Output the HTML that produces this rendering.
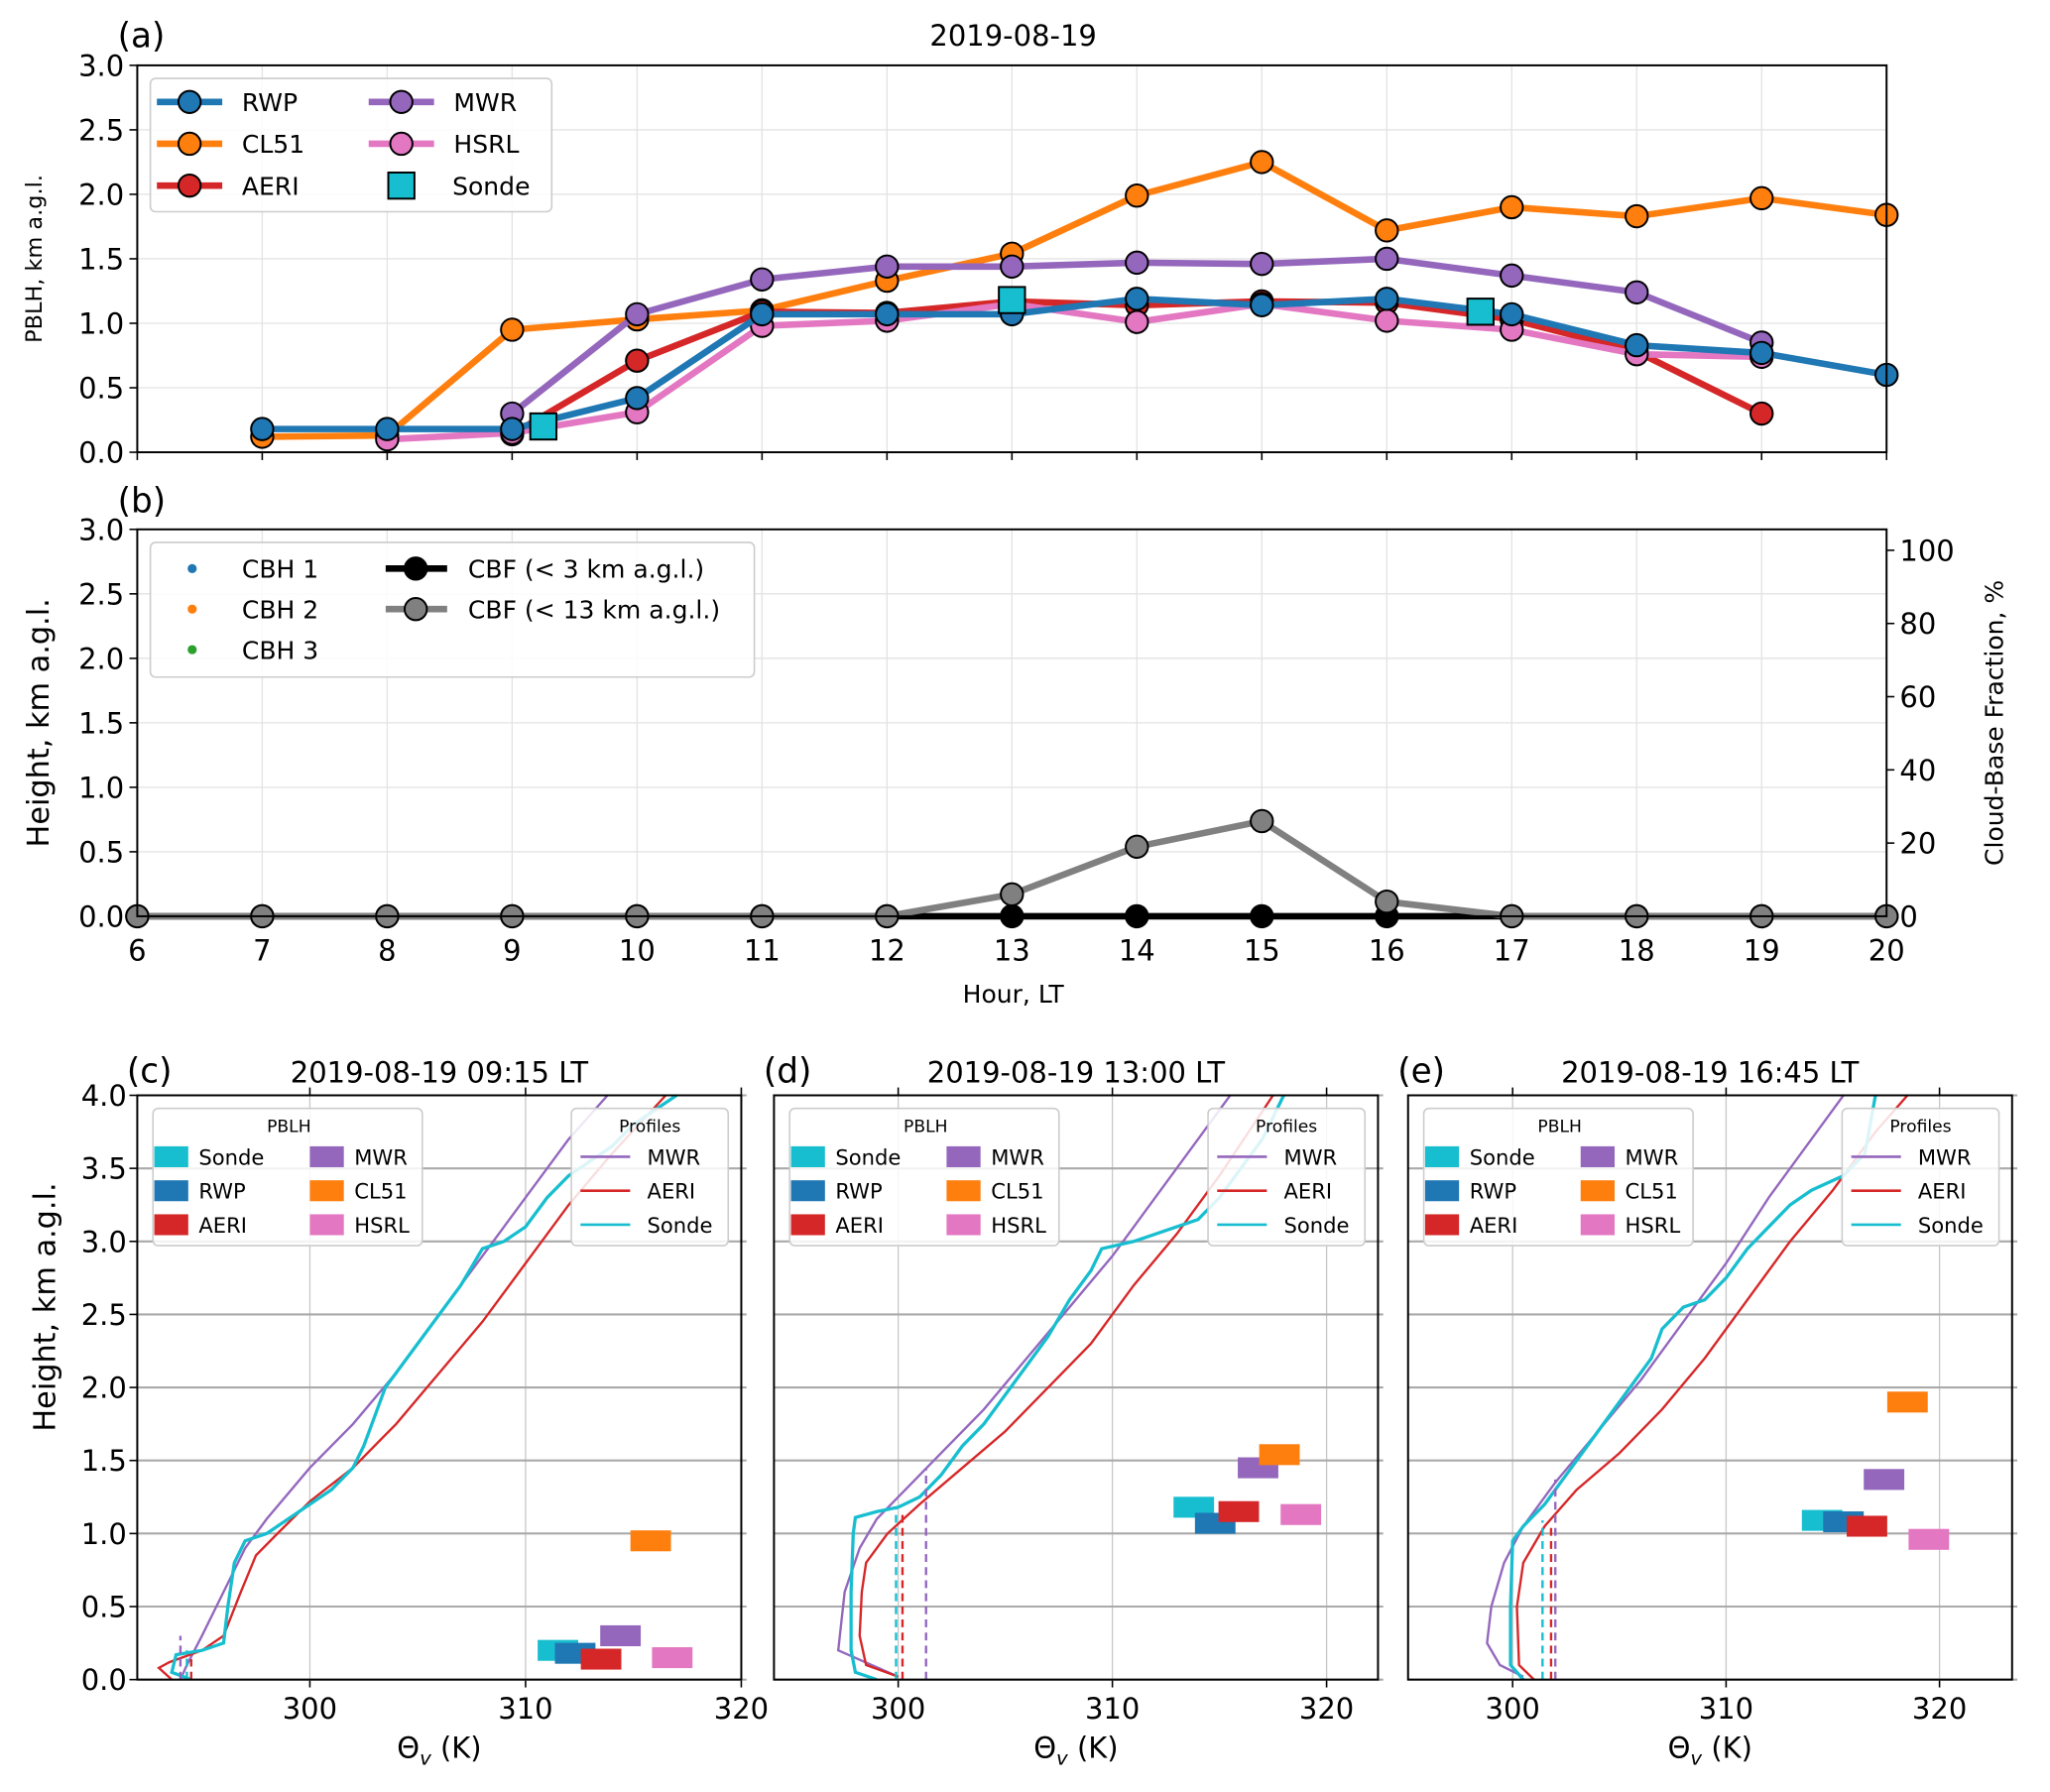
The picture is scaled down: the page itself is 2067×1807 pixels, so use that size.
<!DOCTYPE html>
<html><head><meta charset="utf-8"><style>
html,body{margin:0;padding:0;background:#fff;}
svg{display:block;font-family:"DejaVu Sans","Liberation Sans",sans-serif;}
</style></head><body>
<svg id="fig" width="2067" height="1807" viewBox="0 0 1568 1371" preserveAspectRatio="none" xmlns="http://www.w3.org/2000/svg">
<rect width="1568" height="1371" fill="#fff"/>
<g id="root"></g>
</svg>
<script>
// ---------- data: panel (a) ----------
const hoursA = [7,8,9,10,11,12,13,14,15,16,17,18,19,20];
const rwp   = [0.18,0.18,0.18,0.42,1.07,1.07,1.07,1.19,1.14,1.19,1.07,0.83,0.77,0.60];
const cl51  = [0.12,0.13,0.95,1.03,1.10,1.33,1.54,1.99,2.25,1.72,1.90,1.83,1.97,1.84];
const aeriHours = [9,10,11,12,13,14,15,16,17,18,19];
const aeri  = [0.14,0.71,1.09,1.08,1.17,1.14,1.17,1.16,1.03,0.78,0.30];
const mwrHours = [9,10,11,12,13,14,15,16,17,18,19];
const mwr   = [0.30,1.07,1.34,1.44,1.44,1.47,1.46,1.50,1.37,1.24,0.85];
const hsrlHours = [8,9,10,11,12,13,14,15,16,17,18,19];
const hsrl  = [0.10,0.15,0.31,0.98,1.02,1.15,1.01,1.15,1.02,0.95,0.76,0.74];
const sondeHours = [9.25,13,16.75];
const sonde = [0.20,1.18,1.09];
// ---------- data: panel (b) ----------
const hoursB = [6,7,8,9,10,11,12,13,14,15,16,17,18,19,20];
const cbf3  = [0,0,0,0,0,0,0,0,0,0,0,0,0,0,0];
const cbf13 = [0,0,0,0,0,0,0,6,19,26,4,0,0,0,0];
const xTicksAB = [6,7,8,9,10,11,12,13,14,15,16,17,18,19,20];
const yTicksAB = ["0.0","0.5","1.0","1.5","2.0","2.5","3.0"];
const yTicksR = [0,20,40,60,80,100];
// ---------- data: profile panels ----------
const profTitles = ["2019-08-19 09:15 LT","2019-08-19 13:00 LT","2019-08-19 16:45 LT"];
const profLetters = ["(c)","(d)","(e)"];
const profXlim = [[292,320],[294.2,322.4],[295.1,323.4]];
const mwrC = [[294,0],[294.3,0.1],[295,0.3],[296,0.6],[297,0.9],[298,1.1],[300,1.45],[302,1.75],[304,2.1],[306,2.5],[308,2.9],[310,3.3],[312,3.7],[313.8,4.0]];
const aeriC = [[293.6,0],[293,0.08],[293.5,0.12],[295,0.2],[296,0.3],[296.8,0.6],[297.5,0.85],[298.5,1.0],[300,1.22],[302,1.45],[304,1.75],[306,2.1],[308,2.45],[310,2.85],[312,3.25],[314,3.6],[316.5,4.0]];
const sondeC = [[294.5,0],[293.6,0.05],[293.8,0.17],[295,0.2],[296,0.25],[296.2,0.5],[296.5,0.8],[297,0.95],[298,1.0],[299,1.1],[300,1.2],[301,1.3],[302,1.45],[302.5,1.6],[303,1.8],[303.5,2.0],[304,2.1],[305,2.3],[306,2.5],[307,2.7],[308,2.95],[309,3.0],[310,3.1],[311,3.3],[312,3.45],[314,3.65],[315,3.8],[317,4.0]];
const mwrD = [[300,0.02],[297.2,0.2],[297.5,0.6],[298.2,0.9],[299,1.1],[300,1.25],[302,1.55],[304,1.85],[306,2.2],[308,2.55],[310,2.9],[312,3.3],[314,3.7],[315.5,4.0]];
const aeriD = [[300,0.02],[298.5,0.1],[298.2,0.3],[298.3,0.6],[298.5,0.8],[299.5,1.0],[301,1.2],[303,1.45],[305,1.7],[307,2.0],[309,2.3],[311,2.7],[313,3.05],[315,3.45],[317.5,4.0]];
const sondeD = [[299,0],[298,0.05],[297.8,0.2],[297.8,0.6],[297.9,1.0],[298,1.11],[299,1.15],[300,1.18],[301,1.25],[302,1.4],[303,1.6],[304,1.75],[305,1.95],[306,2.15],[307,2.35],[308,2.6],[309,2.8],[309.5,2.95],[311,3.0],[312,3.05],[313,3.1],[314,3.15],[315,3.3],[316,3.5],[317,3.7],[318,4.0]];
const mwrE = [[300.5,0.02],[299.4,0.1],[298.8,0.25],[299,0.5],[299.6,0.8],[300.5,1.05],[302,1.35],[304,1.7],[306,2.05],[308,2.45],[310,2.85],[312,3.3],[314,3.7],[315.5,4.0]];
const aeriE = [[301,0],[300.3,0.1],[300.2,0.5],[300.5,0.8],[301.5,1.05],[303,1.3],[305,1.55],[307,1.85],[309,2.2],[311,2.6],[313,3.0],[315,3.35],[317,3.75],[318.5,4.0]];
const sondeE = [[300.5,0],[299.9,0.1],[299.9,0.5],[300,0.95],[300.5,1.05],[301.5,1.2],[302.5,1.4],[303.5,1.6],[304.5,1.8],[305.5,2.0],[306.5,2.2],[307,2.4],[308,2.55],[309,2.6],[310,2.75],[311,2.95],[312,3.1],[313,3.25],[314,3.35],[315.5,3.45],[316.5,3.6],[317,4.0]];
const profMwr = [mwrC,mwrD,mwrE];
const profAeri = [aeriC,aeriD,aeriE];
const profSonde = [sondeC,sondeD,sondeE];
const pblhNames = ["Sonde","RWP","AERI","MWR","CL51","HSRL"];
const pblhThetaC = [311.5,312.3,313.5,314.4,315.8,316.8];
const pblhHgtC   = [0.20,0.18,0.14,0.30,0.95,0.15];
const pblhThetaD = [313.8,314.8,315.9,316.8,317.8,318.8];
const pblhHgtD   = [1.18,1.07,1.15,1.45,1.54,1.13];
const pblhThetaE = [314.5,315.5,316.6,317.4,318.5,319.5];
const pblhHgtE   = [1.09,1.08,1.05,1.37,1.90,0.96];
const dashThetaC = [294.3,294.5,294.0];
const dashHgtC   = [0.20,0.14,0.30];
const dashThetaD = [299.9,300.2,301.3];
const dashHgtD   = [1.18,1.15,1.45];
const dashThetaE = [301.4,301.8,302.0];
const dashHgtE   = [1.09,1.05,1.37];
const pblhTheta=[pblhThetaC,pblhThetaD,pblhThetaE], pblhHgt=[pblhHgtC,pblhHgtD,pblhHgtE];
const dashTheta=[dashThetaC,dashThetaD,dashThetaE], dashHgt=[dashHgtC,dashHgtD,dashHgtE];
const profXTicks=[300,310,320];
const profYTicks=["0.0","0.5","1.0","1.5","2.0","2.5","3.0","3.5","4.0"];

const C={rwp:"#1f77b4",cl51:"#ff7f0e",aeri:"#d62728",mwr:"#9467bd",hsrl:"#e377c2",sonde:"#17becf"};
const pblhColors=["#17becf","#1f77b4","#d62728","#9467bd","#ff7f0e","#e377c2"];
const NS="http://www.w3.org/2000/svg";
const root=document.getElementById('root');
function mk(tag,attrs,parent,txt){const e=document.createElementNS(NS,tag);for(const k in attrs)e.setAttribute(k,attrs[k]);if(txt!==undefined)e.textContent=txt;(parent||root).appendChild(e);return e;}

// ---------- axes (a),(b) ----------
const AX={l:105,r:1443};
const xA=h=>AX.l+(h-6)*(AX.r-AX.l)/14;
const yA=v=>346-v*(296/3);
const yB=v=>701-v*(296/3);
const yR=p=>701-p*2.8;

function gridAB(yf,top,bot,name,showX){
  for(const t of xTicksAB){
    let g=mk('line',{x1:xA(t),x2:xA(t),y1:top,y2:bot,stroke:'#e3e3e3','stroke-width':1});
     
    let tk=mk('line',{x1:xA(t),x2:xA(t),y1:bot,y2:bot+6,stroke:'#000','stroke-width':1.2});
     
    if(showX){let tl=mk('text',{x:xA(t),y:bot+34,'font-size':22,'text-anchor':'middle'},root,String(t));
       }
  }
  yTicksAB.forEach(s=>{const v=parseFloat(s);
    let g=mk('line',{x1:AX.l,x2:AX.r,y1:yf(v),y2:yf(v),stroke:'#e3e3e3','stroke-width':1});
     
    let tk=mk('line',{x1:AX.l-6,x2:AX.l,y1:yf(v),y2:yf(v),stroke:'#000','stroke-width':1.2});
     
    let tl=mk('text',{x:AX.l-10,y:yf(v)+8,'font-size':22,'text-anchor':'end'},root,s);
     
  });
}
gridAB(yA,50,346,'panel-a',false);
gridAB(yB,405,701,'panel-b',true);
yTicksR.forEach(p=>{
  let tk=mk('line',{x1:AX.r,x2:AX.r+6,y1:yR(p),y2:yR(p),stroke:'#000','stroke-width':1.2});
   
  let tl=mk('text',{x:AX.r+10,y:yR(p)+8,'font-size':22},root,String(p));
   
});

function series(xs,ys,xf,yf,color,name,marker,lw){
  const g=mk('g',{});
   
  const pts=xs.map((x,i)=>xf(x)+','+yf(ys[i])).join(' ');
  const l=mk('polyline',{points:pts,fill:'none',stroke:color,'stroke-width':lw||5,'stroke-linejoin':'round'},g);
   
  xs.forEach((x,i)=>{
    let m;
    if(marker==='sq') m=mk('rect',{x:xf(x)-10,y:yf(ys[i])-10,width:20,height:20,fill:color,stroke:'#000','stroke-width':1.5},g);
    else m=mk('circle',{cx:xf(x),cy:yf(ys[i]),r:8.5,fill:color,stroke:'#000','stroke-width':1.5},g);
     
  });
}
series(hoursA,cl51,xA,yA,C.cl51,'cl51');
series(mwrHours,mwr,xA,yA,C.mwr,'mwr');
series(aeriHours,aeri,xA,yA,C.aeri,'aeri');
series(hsrlHours,hsrl,xA,yA,C.hsrl,'hsrl');
series(hoursA,rwp,xA,yA,C.rwp,'rwp');
{const g=mk('g',{});  
 sondeHours.forEach((h,i)=>{const m=mk('rect',{x:xA(h)-10,y:yA(sonde[i])-10,width:20,height:20,fill:C.sonde,stroke:'#000','stroke-width':1.5},g);
  });}
series(hoursB,cbf3,xA,yR,'#000','cbf-3km');
series(hoursB,cbf13,xA,yR,'#808080','cbf-13km');

// frames
let fa=mk('rect',{x:AX.l,y:50,width:AX.r-AX.l,height:296,fill:'none',stroke:'#000','stroke-width':1.5});
 
let fb=mk('rect',{x:AX.l,y:405,width:AX.r-AX.l,height:296,fill:'none',stroke:'#000','stroke-width':1.5});
 

function txt(x,y,s,size,name,extra){const t=mk('text',Object.assign({x:x,y:y,'font-size':size},extra||{}),root,s);
   return t;}
txt(90,36,'(a)',26,'panel-a-label');
txt(775,35,'2019-08-19',22,'panel-a-title',{'text-anchor':'middle'});
txt(90,392,'(b)',26,'panel-b-label');
txt(775,767,'Hour, LT',19,'x-axis-title',{'text-anchor':'middle'});
txt(32,198,'PBLH, km a.g.l.',17,'panel-a-y-title',{'text-anchor':'middle',transform:'rotate(-90 32 198)'});
txt(37,553,'Height, km a.g.l.',23,'panel-b-y-title',{'text-anchor':'middle',transform:'rotate(-90 37 553)'});
txt(1532,553,'Cloud-Base Fraction, %',19,'right-y-title',{'text-anchor':'middle',transform:'rotate(-90 1532 553)'});

// legend (a)
{const g=mk('g',{});  
 const lb=mk('rect',{x:115,y:60,width:307,height:102,rx:4,fill:'#fff','fill-opacity':0.85,stroke:'#ccc','stroke-width':1.2},g);
  
 const items=[['RWP',C.rwp,120,78,'c'],['CL51',C.cl51,120,110,'c'],['AERI',C.aeri,120,142,'c'],['MWR',C.mwr,282,78,'c'],['HSRL',C.hsrl,282,110,'c'],['Sonde',C.sonde,282,142,'s']];
 items.forEach(it=>{const e=mk('g',{},g);  
  if(it[4]==='c'){mk('line',{x1:it[2],x2:it[2]+50,y1:it[3],y2:it[3],stroke:it[1],'stroke-width':5},e);
   mk('circle',{cx:it[2]+25,cy:it[3],r:8.5,fill:it[1],stroke:'#000','stroke-width':1.5},e);}
  else mk('rect',{x:it[2]+15,y:it[3]-10,width:20,height:20,fill:it[1],stroke:'#000','stroke-width':1.5},e);
  mk('text',{x:it[2]+(it[4]==='c'?65:64),y:it[3]+7,'font-size':19},e,it[0]);});}
// legend (b)
{const g=mk('g',{});  
 const lb=mk('rect',{x:115,y:415,width:462,height:103,rx:4,fill:'#fff','fill-opacity':0.85,stroke:'#ccc','stroke-width':1.2},g);
  
 [['CBH 1','#1f77b4',435],['CBH 2','#ff7f0e',466],['CBH 3','#2ca02c',497]].forEach(it=>{
  const e=mk('g',{},g);  
  mk('circle',{cx:147,cy:it[2],r:3.5,fill:it[1]},e); mk('text',{x:185,y:it[2]+7,'font-size':19},e,it[0]);});
 [['CBF (< 3 km a.g.l.)','#000',435],['CBF (< 13 km a.g.l.)','#808080',466]].forEach(it=>{
  const e=mk('g',{},g);  
  mk('line',{x1:295,x2:342,y1:it[2],y2:it[2],stroke:it[1],'stroke-width':5},e);
  mk('circle',{cx:318,cy:it[2],r:8.5,fill:it[1],stroke:'#000','stroke-width':1.5},e);
  mk('text',{x:358,y:it[2]+7,'font-size':19},e,it[0]);});}

// ---------- profile panels ----------
const PL=[105,592,1077], PW=462, PT=838, PB=1285;
for(let p=0;p<3;p++){
  const L=PL[p], R=L+PW, xl=profXlim[p];
  const xf=t=>L+(t-xl[0])*PW/(xl[1]-xl[0]);
  const yf=h=>PB-h*(PB-PT)/4;
  const g=mk('g',{});  
  const cp=mk('clipPath',{id:'cp'+p},g); mk('rect',{x:L,y:PT,width:PW,height:PB-PT},cp);
  profXTicks.forEach(t=>{const x=xf(t); if(x<L-1||x>R+1) return;
    const gl=mk('line',{x1:x,x2:x,y1:PT,y2:PB,stroke:'#c8c8c8','stroke-width':1},g);
     
    mk('line',{x1:x,x2:x,y1:PB,y2:PB+6,stroke:'#000','stroke-width':1.2},g);
    mk('line',{x1:x,x2:x,y1:PT-6,y2:PT,stroke:'#000','stroke-width':1.2},g);
    const tl=mk('text',{x:x,y:PB+30,'font-size':22,'text-anchor':'middle'},g,String(t));
     });
  profYTicks.forEach(s=>{const y=yf(parseFloat(s));
    const gl=mk('line',{x1:L,x2:R+4,y1:y,y2:y,stroke:'#aaa','stroke-width':1.6},g);
     
    if(p===0){mk('line',{x1:L-6,x2:L,y1:y,y2:y,stroke:'#000','stroke-width':1.2},g);
      const tl=mk('text',{x:L-8,y:y+8,'font-size':22,'text-anchor':'end'},g,s);
       }
  });
  const cg=mk('g',{'clip-path':'url(#cp'+p+')'},g);
  [[profMwr[p],C.mwr,'mwr-profile'],[profAeri[p],C.aeri,'aeri-profile'],[profSonde[p],C.sonde,'sonde-profile']].forEach(s=>{
    const l=mk('polyline',{points:s[0].map(q=>xf(q[0])+','+yf(q[1])).join(' '),fill:'none',stroke:s[1],'stroke-width':s[2]==='sonde-profile'?2.5:1.8},cg);
     });
  const dc=[C.sonde,C.aeri,C.mwr];
  dashTheta[p].forEach((t,i)=>{const l=mk('line',{x1:xf(t),x2:xf(t),y1:PB,y2:yf(dashHgt[p][i]),stroke:dc[i],'stroke-width':1.8,'stroke-dasharray':'6,4'},cg);
     });
  pblhTheta[p].forEach((t,i)=>{const r=mk('rect',{x:xf(t)-15.5,y:yf(pblhHgt[p][i])-8,width:31,height:16,fill:pblhColors[i]},cg);
     });
  const fr=mk('rect',{x:L,y:PT,width:PW,height:PB-PT,fill:'none',stroke:'#000','stroke-width':1.5},g);
   
  const lt=mk('text',{x:L-8,y:828,'font-size':26},g,profLetters[p]);  
  const tt=mk('text',{x:L+231,y:828,'font-size':22,'text-anchor':'middle'},g,profTitles[p]);  
  const xt=mk('text',{x:L+231,y:1345,'font-size':22,'text-anchor':'middle'},g);  
  xt.innerHTML='Θ<tspan font-size="15" font-style="italic" dy="5">v</tspan><tspan dy="-5"> (K)</tspan>';
  // PBLH legend
  const o=L-105;
  const lg=mk('g',{},g);  
  mk('rect',{x:117+o,y:848,width:206,height:105,rx:4,fill:'#fff','fill-opacity':0.85,stroke:'#ccc','stroke-width':1.2},lg);
  mk('text',{x:221+o,y:866,'font-size':13,'text-anchor':'middle'},lg,'PBLH');
  const order=[[0,0,0],[1,0,1],[2,0,2],[3,1,0],[4,1,1],[5,1,2]];
  order.forEach(q=>{const e=mk('g',{},lg);  
    const x0=(q[1]?237:118)+o, y0=[885,911,937][q[2]];
    mk('rect',{x:x0,y:y0-8,width:26,height:16,fill:pblhColors[q[0]]},e);
    mk('text',{x:x0+34,y:y0+6,'font-size':16},e,pblhNames[q[0]]);});
  const pg=mk('g',{},g);  
  mk('rect',{x:437+o,y:848,width:120,height:105,rx:4,fill:'#fff','fill-opacity':0.85,stroke:'#ccc','stroke-width':1.2},pg);
  mk('text',{x:497+o,y:866,'font-size':13,'text-anchor':'middle'},pg,'Profiles');
  [['MWR',C.mwr,885],['AERI',C.aeri,911],['Sonde',C.sonde,937]].forEach(it=>{const e=mk('g',{},pg);  
    mk('line',{x1:444+o,x2:482+o,y1:it[2],y2:it[2],stroke:it[1],'stroke-width':2},e);
    mk('text',{x:495+o,y:it[2]+6,'font-size':16},e,it[0]);});
}
txt(42,1000,'Height, km a.g.l.',23,'profile-y-title',{'text-anchor':'middle',transform:'rotate(-90 42 1000)'});
</script>
</body></html>
